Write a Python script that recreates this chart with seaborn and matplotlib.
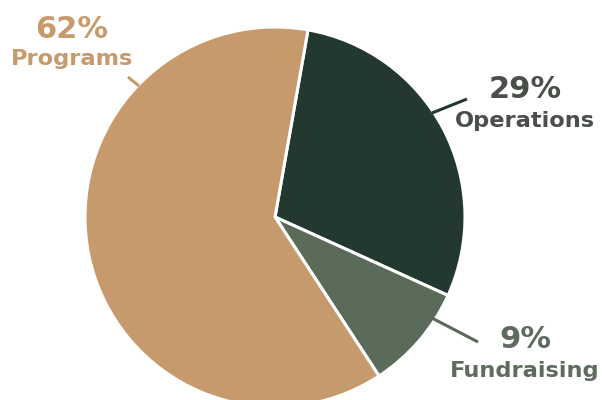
import matplotlib.pyplot as plt
import seaborn as sns

categories = ["Operations", "Fundraising", "Programs"]
shares = [29, 9, 62]
pct_labels = ["29%", "9%", "62%"]

slice_colors = ["#233930", "#5A6B5A", "#C69A6D"]
text_colors = ["#4A4F4A", "#5E6B5E", "#C69A6D"]

sns.set_theme(style="white")
plt.rcParams["font.family"] = ["DejaVu Sans"]

W, H = 602, 400
fig = plt.figure(figsize=(W / 100, H / 100), dpi=100)
ax = fig.add_axes([0, 0, 1, 1])

cx, cy, r = 275, H - 217, 190
ax.pie(shares, colors=slice_colors, startangle=80, counterclock=False,
       center=(cx, cy), radius=r, frame=True,
       wedgeprops=dict(edgecolor="white", linewidth=2.2))
ax.set_xlim(0, W)
ax.set_ylim(0, H)
ax.set_aspect("equal")
ax.axis("off")

# leader lines (pixel coords, y from top)
leaders = {
    "Operations": ((432, 113), (467, 99)),
    "Fundraising": ((430, 317), (478, 342)),
    "Programs": ((128, 77), (139, 86)),
}
# label anchors: (x, y_pct, y_name)
anchors = {
    "Operations": (525, 89, 121),
    "Fundraising": (525, 340, 371),
    "Programs": (72, 29, 59),
}

for name, pct, sc, tc in zip(categories, pct_labels, slice_colors, text_colors):
    (x0, y0), (x1, y1) = leaders[name]
    line_color = tc if name == "Programs" else sc
    ax.plot([x0, x1], [H - y0, H - y1], color=line_color, lw=2.2,
            solid_capstyle="butt")
    x, yp, yn = anchors[name]
    ax.text(x, H - yp, pct, color=tc, fontsize=22, fontweight="bold",
            ha="center", va="center")
    ax.text(x, H - yn, name, color=tc, fontsize=16.2, fontweight="bold",
            ha="center", va="center")

fig.savefig("out.png", dpi=100)
